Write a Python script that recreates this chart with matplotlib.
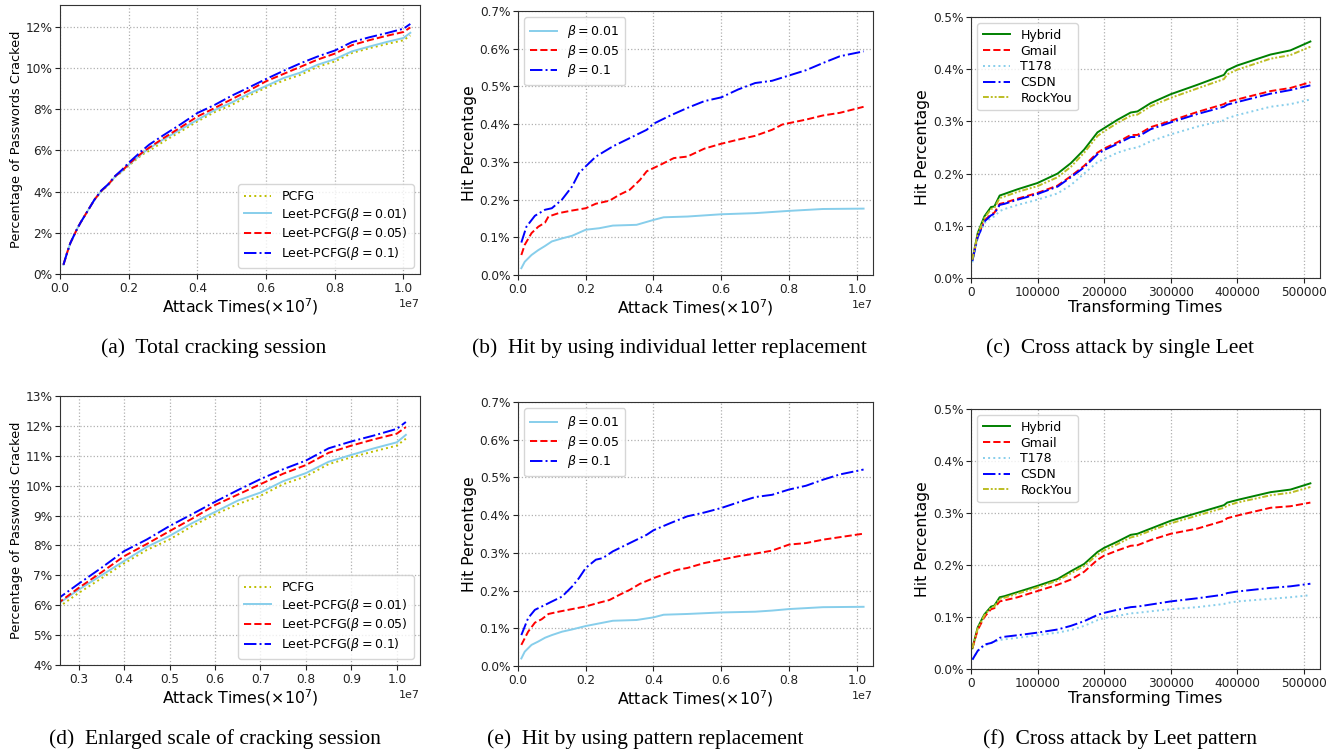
import matplotlib
matplotlib.use("Agg")
import matplotlib.pyplot as plt
from matplotlib.ticker import FuncFormatter, MultipleLocator

# ---- (a)/(d) total cracking session, x in units of 1e7 ----
crack_x = [0.01, 0.02, 0.03, 0.04, 0.05, 0.06, 0.08, 0.1, 0.12, 0.14, 0.16, 0.18, 0.2, 0.22, 0.24,
           0.26, 0.3, 0.35, 0.4, 0.45, 0.5, 0.55, 0.6, 0.65, 0.7, 0.75, 0.8, 0.85, 0.9, 0.95, 1.0, 1.02]
pcfg = [0.45, 1.0, 1.5, 1.85, 2.2, 2.5, 3.05, 3.6, 4.0, 4.3, 4.7, 4.95, 5.25, 5.53, 5.8,
        5.98, 6.41, 6.9, 7.4, 7.85, 8.2, 8.65, 9.04, 9.38, 9.66, 10.05, 10.31, 10.72, 10.95, 11.15, 11.34, 11.57]
leet_001 = [0.45, 1.0, 1.5, 1.85, 2.2, 2.5, 3.05, 3.6, 4.02, 4.32, 4.72, 4.98, 5.3, 5.58, 5.86,
            6.1, 6.52, 7.0, 7.48, 7.95, 8.32, 8.75, 9.12, 9.5, 9.77, 10.15, 10.42, 10.8, 11.03, 11.25, 11.45, 11.7]
leet_005 = [0.45, 1.0, 1.5, 1.85, 2.2, 2.5, 3.05, 3.6, 4.03, 4.33, 4.74, 5.0, 5.33, 5.62, 5.9,
            6.13, 6.58, 7.1, 7.64, 8.05, 8.48, 8.9, 9.35, 9.7, 10.05, 10.4, 10.69, 11.1, 11.34, 11.55, 11.74, 11.96]
leet_01 = [0.45, 1.0, 1.5, 1.85, 2.2, 2.5, 3.05, 3.6, 4.05, 4.35, 4.75, 5.05, 5.4, 5.7, 6.0,
           6.28, 6.72, 7.25, 7.81, 8.2, 8.65, 9.05, 9.46, 9.85, 10.22, 10.55, 10.84, 11.25, 11.48, 11.68, 11.9, 12.13]

# ---- (b) individual letter replacement ----
b1_x = [0.01, 0.02, 0.04, 0.06, 0.08, 0.1, 0.13, 0.16, 0.2, 0.24, 0.28, 0.35, 0.4, 0.43, 0.5, 0.6, 0.7, 0.75, 0.8, 0.9, 1.02]
b1_y = [0.018, 0.035, 0.053, 0.066, 0.077, 0.089, 0.097, 0.104, 0.12, 0.124, 0.131, 0.133, 0.146, 0.153, 0.155,
        0.161, 0.164, 0.167, 0.17, 0.175, 0.176]
b5_x = [0.01, 0.02, 0.04, 0.06, 0.08, 0.09, 0.12, 0.16, 0.2, 0.23, 0.27, 0.3, 0.33, 0.36, 0.38, 0.42, 0.46, 0.5,
        0.55, 0.6, 0.65, 0.7, 0.75, 0.78, 0.85, 0.9, 0.95, 1.02]
b5_y = [0.053, 0.08, 0.111, 0.128, 0.139, 0.155, 0.164, 0.171, 0.177, 0.189, 0.197, 0.213, 0.226, 0.252, 0.275,
        0.292, 0.31, 0.314, 0.335, 0.348, 0.359, 0.369, 0.385, 0.399, 0.412, 0.423, 0.43, 0.446]
b10_x = [0.01, 0.025, 0.05, 0.08, 0.1, 0.13, 0.16, 0.18, 0.2, 0.23, 0.28, 0.33, 0.38, 0.4, 0.45, 0.5, 0.55, 0.6,
         0.65, 0.7, 0.75, 0.8, 0.85, 0.9, 0.95, 1.02]
b10_y = [0.086, 0.128, 0.157, 0.173, 0.177, 0.2, 0.235, 0.27, 0.288, 0.314, 0.341, 0.363, 0.385, 0.401, 0.423,
         0.443, 0.461, 0.471, 0.492, 0.509, 0.515, 0.529, 0.543, 0.562, 0.58, 0.593]

# ---- (e) pattern replacement ----
e1_x = [0.01, 0.02, 0.04, 0.06, 0.08, 0.1, 0.13, 0.16, 0.2, 0.24, 0.28, 0.35, 0.4, 0.43, 0.5, 0.6, 0.7, 0.75, 0.8, 0.9, 1.02]
e1_y = [0.02, 0.038, 0.056, 0.065, 0.075, 0.082, 0.091, 0.097, 0.106, 0.113, 0.12, 0.122, 0.129, 0.136, 0.138,
        0.142, 0.144, 0.147, 0.151, 0.156, 0.157]
e5_x = [0.01, 0.03, 0.05, 0.07, 0.09, 0.12, 0.16, 0.2, 0.24, 0.27, 0.3, 0.33, 0.36, 0.4, 0.44, 0.47, 0.5, 0.55,
        0.6, 0.65, 0.7, 0.75, 0.8, 0.85, 0.9, 1.02]
e5_y = [0.056, 0.091, 0.115, 0.124, 0.138, 0.144, 0.151, 0.158, 0.168, 0.175, 0.189, 0.202, 0.218, 0.233, 0.246,
        0.255, 0.26, 0.273, 0.282, 0.291, 0.298, 0.306, 0.322, 0.326, 0.335, 0.351]
e10_x = [0.01, 0.03, 0.05, 0.08, 0.1, 0.13, 0.16, 0.18, 0.2, 0.23, 0.25, 0.28, 0.33, 0.38, 0.4, 0.45, 0.5, 0.55,
         0.6, 0.65, 0.7, 0.75, 0.8, 0.85, 0.9, 0.95, 1.02]
e10_y = [0.082, 0.127, 0.149, 0.162, 0.171, 0.184, 0.211, 0.233, 0.26, 0.282, 0.286, 0.304, 0.326, 0.348, 0.36,
         0.379, 0.397, 0.407, 0.419, 0.434, 0.448, 0.454, 0.468, 0.478, 0.494, 0.508, 0.521]

# ---- (c) cross attack by single Leet ----
c_x = [2000, 10000, 20000, 30000, 35000, 43000, 50000, 70000, 100000, 130000, 150000, 170000, 190000, 200000,
       220000, 240000, 250000, 270000, 300000, 340000, 380000, 385000, 400000, 450000, 480000, 510000]
c_hybrid = [0.035, 0.086, 0.118, 0.136, 0.137, 0.158, 0.161, 0.17, 0.182, 0.2, 0.22, 0.246, 0.279, 0.287,
            0.303, 0.317, 0.319, 0.335, 0.352, 0.37, 0.389, 0.398, 0.407, 0.428, 0.436, 0.453]
c_rockyou = [0.035, 0.084, 0.115, 0.132, 0.134, 0.153, 0.156, 0.165, 0.176, 0.193, 0.213, 0.24, 0.272, 0.281,
             0.297, 0.311, 0.313, 0.329, 0.345, 0.363, 0.381, 0.39, 0.399, 0.42, 0.427, 0.443]
c_gmail = [0.035, 0.08, 0.11, 0.122, 0.125, 0.142, 0.144, 0.152, 0.163, 0.177, 0.195, 0.215, 0.24, 0.248,
           0.26, 0.274, 0.274, 0.289, 0.301, 0.318, 0.333, 0.337, 0.342, 0.358, 0.364, 0.375]
c_csdn = [0.033, 0.078, 0.108, 0.12, 0.123, 0.14, 0.142, 0.15, 0.161, 0.175, 0.193, 0.212, 0.237, 0.245,
          0.257, 0.27, 0.27, 0.285, 0.298, 0.314, 0.328, 0.332, 0.337, 0.353, 0.36, 0.369]
c_t178 = [0.03, 0.078, 0.105, 0.115, 0.118, 0.128, 0.132, 0.14, 0.15, 0.162, 0.178, 0.2, 0.222, 0.228,
          0.24, 0.248, 0.25, 0.262, 0.275, 0.29, 0.302, 0.306, 0.312, 0.328, 0.333, 0.342]

# ---- (f) cross attack by Leet pattern ----
f_hybrid = [0.04, 0.08, 0.105, 0.12, 0.122, 0.138, 0.14, 0.148, 0.16, 0.173, 0.188, 0.202, 0.225, 0.233,
            0.245, 0.258, 0.26, 0.27, 0.285, 0.3, 0.315, 0.32, 0.325, 0.34, 0.345, 0.357]
f_rockyou = [0.04, 0.078, 0.103, 0.118, 0.12, 0.135, 0.137, 0.145, 0.157, 0.17, 0.184, 0.198, 0.22, 0.228,
             0.24, 0.253, 0.256, 0.266, 0.28, 0.295, 0.31, 0.314, 0.32, 0.334, 0.339, 0.35]
f_gmail = [0.04, 0.075, 0.1, 0.115, 0.117, 0.13, 0.132, 0.138, 0.15, 0.162, 0.172, 0.187, 0.21, 0.218,
           0.228, 0.237, 0.238, 0.248, 0.26, 0.27, 0.285, 0.29, 0.295, 0.31, 0.313, 0.32]
f_csdn = [0.018, 0.035, 0.047, 0.05, 0.053, 0.06, 0.062, 0.065, 0.07, 0.076, 0.083, 0.092, 0.104, 0.108,
          0.114, 0.119, 0.12, 0.124, 0.13, 0.136, 0.143, 0.146, 0.149, 0.156, 0.159, 0.164]
f_t178 = [0.018, 0.035, 0.045, 0.05, 0.052, 0.056, 0.057, 0.06, 0.065, 0.07, 0.075, 0.083, 0.094, 0.098,
          0.102, 0.107, 0.108, 0.111, 0.115, 0.119, 0.125, 0.127, 0.13, 0.135, 0.138, 0.142]

captions = ["(a)  Total cracking session", "(b)  Hit by using individual letter replacement",
            "(c)  Cross attack by single Leet", "(d)  Enlarged scale of cracking session",
            "(e)  Hit by using pattern replacement", "(f)  Cross attack by Leet pattern"]

plt.rcParams['font.family'] = 'DejaVu Sans'
fig = plt.figure(figsize=(13.37, 7.54), dpi=100)

positions = [
    [0.0449, 0.6366, 0.2692, 0.3568],
    [0.3874, 0.6353, 0.2656, 0.3501],
    [0.7263, 0.6313, 0.2610, 0.3462],
    [0.0449, 0.1180, 0.2692, 0.3568],
    [0.3874, 0.1167, 0.2656, 0.3501],
    [0.7263, 0.1127, 0.2610, 0.3449],
]
axes = [fig.add_axes(p) for p in positions]


def style(ax):
    ax.grid(True, linestyle=':', color='#b0b0b0', linewidth=0.9)
    ax.set_axisbelow(True)
    for s in ax.spines.values():
        s.set_color('#333333')
    ax.tick_params(labelsize=8.7, colors='#222222', length=3.5, pad=2)
    ax.xaxis.get_offset_text().set_fontsize(8)
    ax.xaxis.labelpad = 1
    ax.yaxis.labelpad = 2


def to_e7(xs):
    return [v * 1e7 for v in xs]


def add_legend(ax, loc):
    ax.legend(loc=loc, fontsize=9, labelspacing=0.22, borderpad=0.45, handlelength=2.2)


pct0 = FuncFormatter(lambda v, p: '{:.0f}%'.format(v))
pct1 = FuncFormatter(lambda v, p: '{:.1f}%'.format(v))

# (a) and (d)
for i in [0, 3]:
    ax = axes[i]
    ax.plot(to_e7(crack_x), pcfg, color='#bfbf00', linestyle=':', lw=1.4, label='PCFG')
    ax.plot(to_e7(crack_x), leet_001, color='skyblue', linestyle='-', lw=1.4, label=r'Leet-PCFG($\beta=0.01$)')
    ax.plot(to_e7(crack_x), leet_005, color='red', linestyle='--', lw=1.4, label=r'Leet-PCFG($\beta=0.05$)')
    ax.plot(to_e7(crack_x), leet_01, color='blue', linestyle='-.', lw=1.4, label=r'Leet-PCFG($\beta=0.1$)')
    ax.yaxis.set_major_formatter(pct0)
    ax.set_ylabel('Percentage of Passwords Cracked', fontsize=9.3)
    ax.set_xlabel(r'Attack Times($\times10^7$)', fontsize=11.3)
    add_legend(ax, 'lower right')
    style(ax)
axes[0].set_xlim(0, 1.048e7)
axes[0].set_ylim(0, 13.05)
axes[0].yaxis.set_major_locator(MultipleLocator(2))
axes[3].set_xlim(0.259e7, 1.051e7)
axes[3].set_ylim(4, 13)
axes[3].yaxis.set_major_locator(MultipleLocator(1))

# (b) and (e)
for ax, d in [(axes[1], (b1_x, b1_y, b5_x, b5_y, b10_x, b10_y)), (axes[4], (e1_x, e1_y, e5_x, e5_y, e10_x, e10_y))]:
    ax.plot(to_e7(d[0]), d[1], color='skyblue', linestyle='-', lw=1.4, label=r'$\beta=0.01$')
    ax.plot(to_e7(d[2]), d[3], color='red', linestyle='--', lw=1.4, label=r'$\beta=0.05$')
    ax.plot(to_e7(d[4]), d[5], color='blue', linestyle='-.', lw=1.4, label=r'$\beta=0.1$')
    ax.set_xlim(0, 1.048e7)
    ax.set_ylim(0, 0.7)
    ax.yaxis.set_major_locator(MultipleLocator(0.1))
    ax.yaxis.set_major_formatter(pct1)
    ax.set_ylabel('Hit Percentage', fontsize=11.3)
    ax.set_xlabel(r'Attack Times($\times10^7$)', fontsize=11.3)
    add_legend(ax, 'upper left')
    style(ax)

# (c) and (f)
for ax, d in [(axes[2], (c_hybrid, c_gmail, c_t178, c_csdn, c_rockyou)),
              (axes[5], (f_hybrid, f_gmail, f_t178, f_csdn, f_rockyou))]:
    ax.plot(c_x, d[0], color='green', linestyle='-', lw=1.4, label='Hybrid')
    ax.plot(c_x, d[1], color='red', linestyle='--', lw=1.4, label='Gmail')
    ax.plot(c_x, d[2], color='skyblue', linestyle=':', lw=1.4, label='T178')
    ax.plot(c_x, d[3], color='blue', linestyle='-.', lw=1.4, label='CSDN')
    ax.plot(c_x, d[4], color='#bcbd22', linestyle=(0, (3, 1, 1, 1, 1, 1)), lw=1.4, label='RockYou')
    ax.set_xlim(0, 524500)
    ax.set_ylim(0, 0.5)
    ax.yaxis.set_major_locator(MultipleLocator(0.1))
    ax.yaxis.set_major_formatter(pct1)
    ax.set_ylabel('Hit Percentage', fontsize=11.3)
    ax.set_xlabel('Transforming Times', fontsize=11.3)
    add_legend(ax, 'upper left')
    style(ax)

cap_x = [214, 669, 1120, 215, 645, 1120]
cap_y = [348, 348, 348, 739, 739, 739]
for t, cx, cy in zip(captions, cap_x, cap_y):
    fig.text(cx / 1337, 1 - cy / 754, t, ha='center', va='center',
             family='Liberation Serif', fontsize=15.5)

fig.savefig('out.png', dpi=100)
